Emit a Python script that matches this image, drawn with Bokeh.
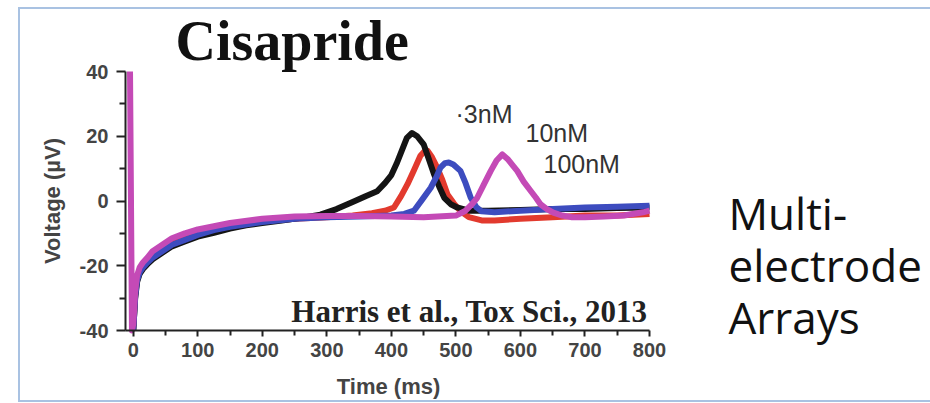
from bokeh.plotting import figure
from bokeh.models import Range1d, Label, FixedTicker
from bokeh.embed import file_html
from bokeh.resources import INLINE

# ---- data ----
t_black = [0, 3, 6, 10, 15, 22, 30, 45, 60, 80, 100, 125, 150, 175, 200, 230, 260, 290, 315, 340, 360,
           378, 390, 400, 408, 416, 424, 432, 440, 450, 458, 466, 474, 482, 492, 502, 520, 550, 600,
           650, 700, 750, 800]
v_black = [-40, -30, -25, -22.5, -21, -19.5, -18, -16, -14, -12.5, -11, -9.8, -8.5, -7.5, -6.8, -6, -5.2,
           -4.2, -2.5, -0.3, 1.5, 3, 5.5, 8, 11.5, 15.5, 19.5, 21, 20, 17.5, 13, 8.3, 4.5, 1, -1, -2,
           -3, -3, -2.8, -2.5, -2.5, -2.2, -2]

t_red = [0, 3, 6, 10, 15, 22, 30, 45, 60, 80, 100, 125, 150, 200, 250, 300, 340, 370, 390, 404, 415, 425,
         435, 445, 451, 456, 463, 471, 479, 487, 497, 507, 520, 540, 560, 600, 650, 700, 750, 800]
v_red = [-40, -29, -24, -21.5, -20, -18.5, -17, -15, -13, -11.5, -10, -8.8, -7.8, -6.3, -5.5, -5, -4.5,
         -3.8, -3, -2, 1.5, 5.2, 9.5, 14, 15.3, 15.5, 13.5, 10.3, 6.5, 2, -0.8, -3.1, -5, -6, -6, -5.5,
         -5, -4.5, -4.5, -4]

t_blue = [0, 3, 6, 10, 15, 22, 30, 45, 60, 80, 100, 125, 150, 200, 250, 300, 350, 400, 420, 435, 448,
          461, 470, 476, 483, 489, 496, 507, 515, 523, 532, 540, 560, 600, 650, 700, 750, 800]
v_blue = [-40, -29.5, -24.5, -22, -20.5, -19, -17.5, -15.5, -13.5, -12, -10.5, -9, -8, -6.5, -5.5, -5,
          -4.8, -4.5, -4, -3, 0.5, 4.1, 7.5, 10.3, 11.7, 11.9, 11.3, 9.3, 5.5, 1, -2, -3.2, -3.5, -3,
          -2.5, -2, -1.8, -1.5]

t_magenta = [-5, -2, 0, 3, 6, 10, 15, 22, 30, 45, 60, 80, 100, 125, 150, 200, 250, 300, 350, 400, 450,
             500, 515, 525, 533, 543, 554, 563, 572, 580, 588, 595, 605, 616, 624, 631, 641, 651, 665,
             680, 700, 730, 760, 790, 800]
v_magenta = [40, -40, -38, -28, -23, -20.5, -19, -17.5, -15.5, -13.5, -11.5, -10, -8.8, -7.8, -6.8, -5.5,
             -4.8, -4.6, -4.6, -4.8, -5, -4.5, -3, -1, 1, 5, 9.3, 12.5, 14.4, 13, 11, 9.3, 6, 3.1, 1, -1,
             -2.5, -3.6, -4.5, -5, -5, -4.8, -4.5, -3.5, -3]

x_ticks = [0, 100, 200, 300, 400, 500, 600, 700, 800]
x_minor = [50, 150, 250, 350, 450, 550, 650, 750]
y_ticks = [-40, -20, 0, 20, 40]
y_tick_labels = ["-40", "-20", "0", "20", "40"]
y_minor = [-30, -10, 10, 30]
conc_labels = ["\u00b73nM", "10nM", "100nM"]
side_text = ["Multi-", "electrode", "Arrays"]

# ---- layout: the frame covers the whole canvas, axes sit at fixed locations ----
W, H = 930, 403
XAX_MIN, XAX_MAX, YAX_MIN, YAX_MAX = -12, 800, -40, 40
px_left, px_800 = 125, 649      # pixel x of -12 ms and 800 ms
py_top, py_bot = 71, 330        # pixel y of 40 and -40 uV
sx = (px_800 - px_left) / (XAX_MAX - XAX_MIN)
sy = (py_bot - py_top) / (YAX_MAX - YAX_MIN)
XA = XAX_MIN - px_left / sx
XB = XA + W / sx
YB = YAX_MAX + py_top / sy
YA = YB - H / sy


def dx(px):
    return XA + px / sx


def dy(py):
    return YB - py / sy


p = figure(width=W, height=H, output_backend="svg", toolbar_location=None, title=None,
           x_range=Range1d(XA, XB), y_range=Range1d(YA, YB),
           min_border_left=0, min_border_right=0, min_border_top=0, min_border_bottom=0,
           stylesheets=[":host::after{content:'';position:absolute;left:18px;top:7px;right:0;"
                        "height:395px;border:2px solid #a9c2e2;border-right:none;"
                        "pointer-events:none;box-sizing:border-box;}"])
p.outline_line_color = None
p.grid.visible = False
p.background_fill_color = "white"
p.border_fill_color = "white"

lw = 6
p.line(t_red, v_red, color="#e23a2e", line_width=lw, line_join="round")
p.line(t_black, v_black, color="#141414", line_width=lw, line_join="round")
p.line(t_blue, v_blue, color="#3d4cbf", line_width=lw, line_join="round")
p.line(t_magenta, v_magenta, color="#c44ab6", line_width=lw, line_join="round")

for ax in (p.xaxis[0], p.yaxis[0]):
    ax.axis_line_width = 2
    ax.axis_line_color = "#222222"
    ax.major_tick_line_width = 2
    ax.minor_tick_line_width = 2
    ax.major_tick_line_color = "#222222"
    ax.minor_tick_line_color = "#222222"
    ax.major_tick_in = 0
    ax.minor_tick_in = 0
    ax.major_label_text_font = "Liberation Sans"
    ax.major_label_text_font_size = "20px"
    ax.major_label_text_font_style = "bold"
    ax.major_label_text_color = "#444444"
    ax.axis_label_text_font = "Liberation Sans"
    ax.axis_label_text_font_size = "22px"
    ax.axis_label_text_font_style = "bold"
    ax.axis_label_text_color = "#444444"

p.xaxis.ticker = FixedTicker(ticks=x_ticks, minor_ticks=x_minor)
p.yaxis.ticker = FixedTicker(ticks=y_ticks, minor_ticks=y_minor)
p.yaxis.major_label_overrides = dict(zip(y_ticks, y_tick_labels))
p.xaxis.bounds = (XAX_MIN, XAX_MAX)
p.yaxis.bounds = (YAX_MIN, YAX_MAX)
p.xaxis.fixed_location = YAX_MIN
p.yaxis.fixed_location = XAX_MIN
p.xaxis.major_tick_out = 6
p.xaxis.minor_tick_out = 5
p.yaxis.major_tick_out = 9
p.yaxis.minor_tick_out = 6
p.xaxis.major_label_standoff = 6
p.yaxis.major_label_standoff = 8
p.yaxis.axis_label = "Voltage (\u00b5V)"
p.yaxis.axis_label_standoff = 12

# x-axis title (centred under the axis extent)
p.add_layout(Label(x=dx(388), y=dy(386), text="Time (ms)", text_align="center",
                   text_baseline="alphabetic", text_font="Liberation Sans",
                   text_font_size="22px", text_font_style="bold", text_color="#444444"))
# title
p.add_layout(Label(x=dx(175), y=dy(40), text="Cisapride", text_align="left",
                   text_baseline="alphabetic", text_font="Liberation Serif",
                   text_font_size="56px", text_font_style="bold", text_color="#111111"))
# citation
p.add_layout(Label(x=dx(647), y=dy(311), text="Harris et al., Tox Sci., 2013", text_align="right",
                   text_baseline="alphabetic", text_font="Liberation Serif",
                   text_font_size="31px", text_font_style="bold", text_color="#222222"))
# concentration labels
for txt, px, py in zip(conc_labels, [455, 525, 543], [113, 132, 163]):
    p.add_layout(Label(x=dx(px), y=dy(py), text=txt, text_align="left",
                       text_baseline="alphabetic", text_font="Liberation Sans",
                       text_font_size="25px", text_color="#333333"))
# side text
for txt, py in zip(side_text, [212, 264, 316]):
    p.add_layout(Label(x=dx(728), y=dy(py), text=txt, text_align="left",
                       text_baseline="alphabetic", text_font="Open Sans",
                       text_font_size="44px", text_color="#111111"))

open("out.html", "w").write(file_html(p, INLINE))
